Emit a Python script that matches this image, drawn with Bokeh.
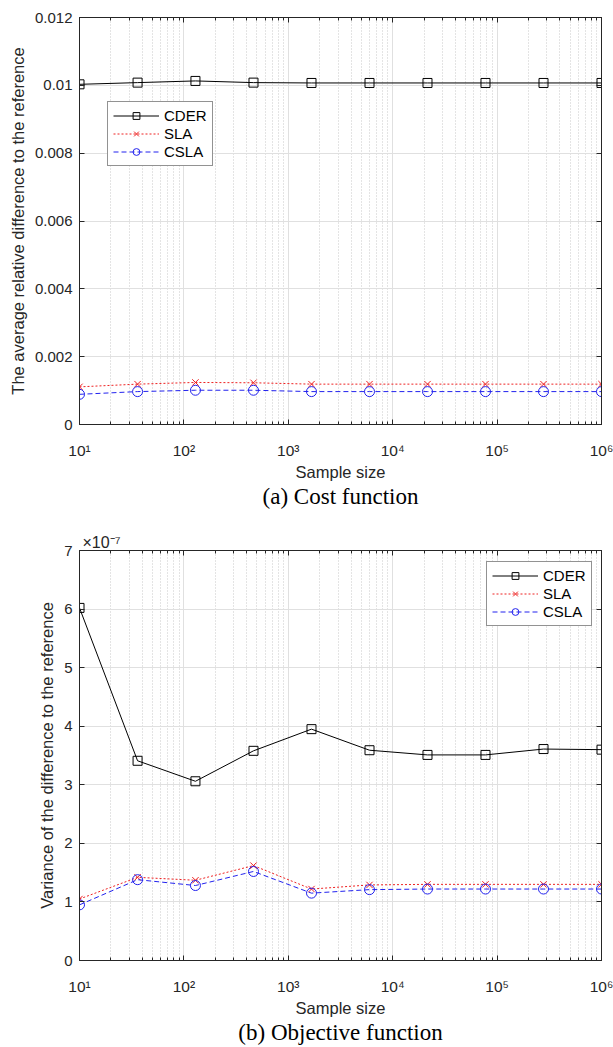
from bokeh.plotting import figure
from bokeh.models import (FixedTicker, LogAxis, LinearAxis, Title, Legend, LegendItem,
                          BasicTickFormatter)
from bokeh.layouts import column
from bokeh.embed import file_html
from bokeh.resources import INLINE

# ---------------- data ----------------
sample_size = [10, 36, 129, 464, 1668, 5995, 21544, 77426, 278256, 1000000]

# (a) average relative difference to the reference
cder_cost = [0.01003, 0.01008, 0.01013, 0.01008, 0.01007, 0.01007, 0.01007, 0.01007, 0.01007, 0.01007]
sla_cost = [0.00111, 0.00119, 0.00124, 0.00123, 0.00119, 0.00119, 0.00119, 0.00119, 0.00119, 0.00119]
csla_cost = [0.00089, 0.00097, 0.00101, 0.00101, 0.00097, 0.00097, 0.00097, 0.00097, 0.00097, 0.00097]

# (b) variance of the difference to the reference (x 1e-7)
cder_obj = [6.02, 3.41, 3.06, 3.58, 3.95, 3.59, 3.51, 3.51, 3.61, 3.60]
sla_obj = [1.05, 1.42, 1.37, 1.62, 1.22, 1.29, 1.30, 1.30, 1.30, 1.30]
csla_obj = [0.95, 1.38, 1.28, 1.52, 1.15, 1.21, 1.22, 1.22, 1.22, 1.22]

x_major = [10, 100, 1000, 10000, 100000, 1000000]
x_labels = ["10\u00b9", "10\u00b2", "10\u00b3", "10\u2074", "10\u2075", "10\u2076"]
x_minor = [d * k for d in x_major[:-1] for k in range(2, 10)]

cost_ticks = [0, 0.002, 0.004, 0.006, 0.008, 0.01, 0.012]
cost_labels = ["0", "0.002", "0.004", "0.006", "0.008", "0.01", "0.012"]
obj_ticks = [0, 1, 2, 3, 4, 5, 6, 7]
obj_labels = ["0", "1", "2", "3", "4", "5", "6", "7"]

series_names = ["CDER", "SLA", "CSLA"]
# --------------------------------------

AX = "#262626"
SANS = "Liberation Sans"
SERIF = "Liberation Serif"


def make_fig(height, top, bottom, ymax, yticks, ylabels, ylabel, caption, ys, legend_loc):
    p = figure(width=613, height=height, x_axis_type="log",
               x_range=(10, 1000000), y_range=(0, ymax),
               output_backend="svg", toolbar_location=None,
               min_border_left=79, min_border_right=12,
               min_border_top=top, min_border_bottom=bottom)
    p.background_fill_color = "white"
    p.border_fill_color = "white"
    p.outline_line_color = AX
    p.outline_line_width = 1

    xt = FixedTicker(ticks=x_major, minor_ticks=x_minor)
    yt = FixedTicker(ticks=yticks)

    xa = p.xaxis[0]
    xa.ticker = xt
    xa.major_label_overrides = dict(zip(x_major, x_labels))
    xa.axis_label = "Sample size"
    xa.axis_label_text_font = SANS
    xa.axis_label_text_font_size = "16.5px"
    xa.axis_label_text_font_style = "normal"
    xa.axis_label_text_color = AX
    xa.axis_label_standoff = 1
    xa.major_label_text_font = SANS
    xa.major_label_text_font_size = "15.5px"
    xa.major_label_text_color = AX
    xa.major_label_standoff = 17
    xa.major_tick_in = 5
    xa.major_tick_out = 0
    xa.minor_tick_in = 3
    xa.minor_tick_out = 0
    xa.axis_line_color = AX
    xa.major_tick_line_color = AX
    xa.minor_tick_line_color = AX

    ya = p.yaxis[0]
    ya.ticker = yt
    ya.major_label_overrides = dict(zip(yticks, ylabels))
    ya.axis_label = ylabel
    ya.axis_label_text_font = SANS
    ya.axis_label_text_font_size = "16.5px"
    ya.axis_label_text_font_style = "normal"
    ya.axis_label_text_color = AX
    ya.axis_label_standoff = 5
    ya.major_label_text_font = SANS
    ya.major_label_text_font_size = "15px"
    ya.major_label_text_color = AX
    ya.major_label_standoff = 7
    ya.major_tick_in = 5
    ya.major_tick_out = 0
    ya.minor_tick_line_color = None
    ya.axis_line_color = AX
    ya.major_tick_line_color = AX

    top_ax = LogAxis(ticker=xt, formatter=BasicTickFormatter(),
                     major_label_text_font_size="1px", major_label_text_alpha=0,
                     major_label_standoff=0,
                     major_tick_in=5, major_tick_out=0, minor_tick_in=3, minor_tick_out=0,
                     axis_line_color=AX, major_tick_line_color=AX, minor_tick_line_color=AX)
    right_ax = LinearAxis(ticker=yt, major_label_text_font_size="1px",
                          major_label_text_alpha=0, major_label_standoff=0,
                          major_tick_in=5, major_tick_out=0, minor_tick_line_color=None,
                          axis_line_color=AX, major_tick_line_color=AX)
    p.add_layout(top_ax, "above")
    p.add_layout(right_ax, "right")

    p.xgrid.ticker = xt
    p.ygrid.ticker = yt
    p.xgrid.grid_line_color = "#e0e0e0"
    p.ygrid.grid_line_color = "#e0e0e0"
    p.xgrid.minor_grid_line_color = "#c8c8c8"
    p.xgrid.minor_grid_line_dash = "1 2"

    cder, sla, csla = ys
    r1 = p.line(sample_size, cder, line_color="black", line_width=1)
    m1 = p.scatter(sample_size, cder, marker="square", size=9, line_color="black",
                   fill_color=None, line_width=1)
    r2 = p.line(sample_size, sla, line_color="#ee2222", line_width=1, line_dash="2 2")
    m2 = p.scatter(sample_size, sla, marker="x", size=9, line_color="#ee2222", line_width=1)
    r3 = p.line(sample_size, csla, line_color="#2222ee", line_width=1, line_dash="5 3")
    m3 = p.scatter(sample_size, csla, marker="circle", size=10, line_color="#2222ee",
                   fill_color=None, line_width=1)

    legend = Legend(items=[LegendItem(label=series_names[0], renderers=[r1, m1]),
                           LegendItem(label=series_names[1], renderers=[r2, m2]),
                           LegendItem(label=series_names[2], renderers=[r3, m3])],
                    location=legend_loc)
    legend.label_text_font = SANS
    legend.label_text_font_size = "15px"
    legend.label_text_color = "black"
    legend.label_standoff = 5
    legend.glyph_width = 46
    legend.glyph_height = 17
    legend.label_height = 17
    legend.spacing = 1
    legend.padding = 5
    legend.margin = 0
    legend.border_line_color = AX
    legend.border_line_width = 1
    legend.background_fill_color = "white"
    legend.background_fill_alpha = 1
    p.add_layout(legend, "center")

    cap = Title(text=caption, align="center", text_font=SERIF, text_font_size="23px",
                text_font_style="normal", text_color="black", standoff=0,
                vertical_align="top", text_line_height=1.0)
    p.add_layout(cap, "below")
    return p


p1 = make_fig(510, 17, 85, 0.012, cost_ticks, cost_labels,
              "The average relative difference to the reference", "(a) Cost function",
              (cder_cost, sla_cost, csla_cost), (28, 258))

p2 = make_fig(537, 40, 87, 7, obj_ticks, obj_labels,
              "Variance of the difference to the reference", "(b) Objective function",
              (cder_obj, sla_obj, csla_obj), (407, 334))
p2.title.text = "\u00d710\u207b\u2077"
p2.title.align = "left"
p2.title.text_font = SANS
p2.title.text_font_size = "16px"
p2.title.text_font_style = "normal"
p2.title.text_color = AX
p2.title.offset = 3
p2.title.standoff = 0

layout = column(p1, p2, spacing=0)
open("out.html", "w").write(file_html(layout, INLINE))
